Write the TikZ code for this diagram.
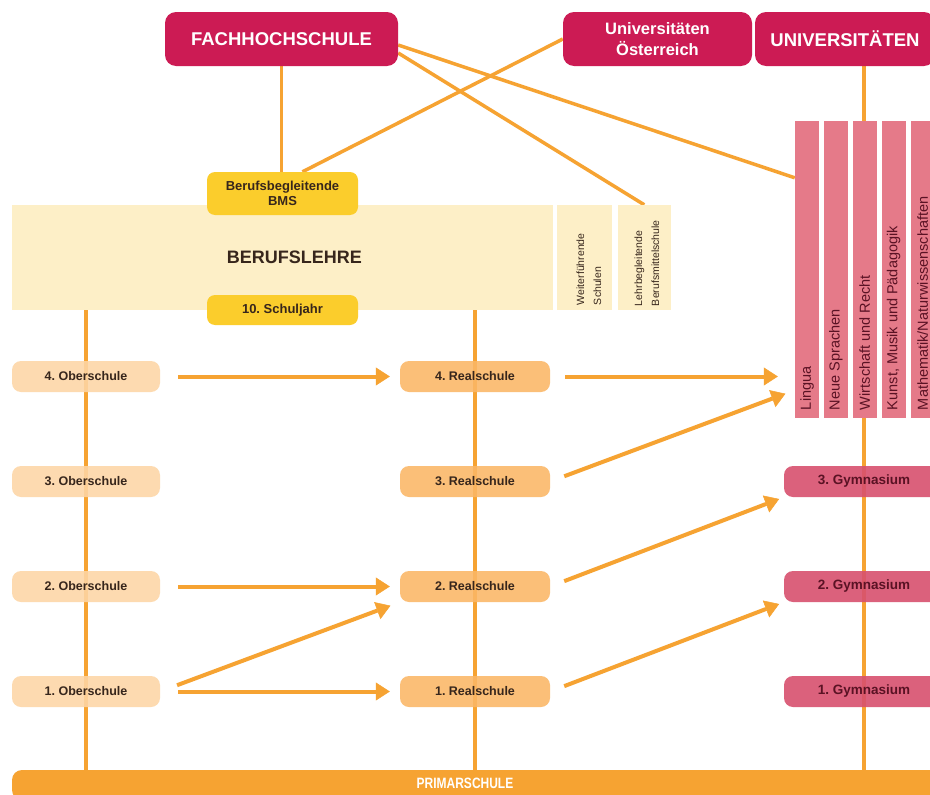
\documentclass[tikz,border=0pt]{standalone}
\usepackage{fontspec}
\setmainfont{Liberation Sans}
\frenchspacing
\usetikzlibrary{arrows.meta,positioning,calc,backgrounds}

\definecolor{himbeer}{RGB}{204,27,84}
\definecolor{gymrot}{RGB}{216,80,110}
\definecolor{fachrot}{RGB}{229,122,137}
\definecolor{pfirsich}{RGB}{253,214,166}
\definecolor{apricot}{RGB}{251,183,102}
\definecolor{gelb}{RGB}{251,205,44}
\definecolor{creme}{RGB}{253,239,199}
\definecolor{strich}{RGB}{246,163,50}
\definecolor{tinte}{RGB}{55,38,28}
\definecolor{weinrot}{RGB}{90,18,36}

\tikzset{schild/.style={rectangle, rounded corners=9pt, inner sep=2pt, text=tinte, font=\bfseries\fontsize{12.5}{14}\selectfont}}
\tikzstyle{kopf}=[schild, fill=himbeer, text=white, rounded corners=11pt, minimum height=54pt, font=\bfseries\fontsize{18.5}{21}\selectfont]
\tikzstyle{bmsbox}=[schild, fill=gelb, rounded corners=8pt, minimum width=151pt, font=\bfseries\fontsize{13}{15}\selectfont]
\tikzstyle{oberbox}=[schild, fill=pfirsich, fill opacity=0.88, text opacity=1, minimum width=148pt, minimum height=31pt]
\tikzstyle{realbox}=[schild, fill=apricot, fill opacity=0.88, text opacity=1, minimum width=150pt, minimum height=31pt]
\tikzstyle{gymbox}=[schild, fill=gymrot, fill opacity=0.9, text opacity=1, text=weinrot, minimum width=160pt, minimum height=31pt, font=\bfseries\fontsize{13.5}{15}\selectfont]
\tikzstyle{feld}=[rectangle, fill=creme, inner sep=0pt, minimum height=105pt]
\tikzstyle{fach}=[rectangle, fill=fachrot, inner sep=0pt, minimum width=24pt, minimum height=297pt]
\tikzstyle{fachtext}=[rotate=90, anchor=west, inner sep=0pt, text=weinrot, font=\fontsize{14.5}{16}\selectfont]
\tikzstyle{kleintext}=[rotate=90, anchor=west, inner sep=0pt, align=left, text=tinte, font=\fontsize{10.5}{17}\selectfont]
\tikzstyle{strang}=[draw=strich, line width=3.5pt]
\tikzstyle{pfeil}=[->, color=strich, line width=4pt]

\begin{document}
\begin{tikzpicture}[x=1pt, y=-1pt, >={Triangle[length=14pt,width=18pt,line width=0.5pt,fill=strich]}, node distance=105pt]
\useasboundingbox (0,0) rectangle (930,795);
\clip (0,0) rectangle (930,795);

% Hochschulen
\node[kopf, minimum width=233pt] (FH) at (281.5,39) {FACHHOCHSCHULE};
\node[kopf, minimum width=189pt, align=center, font=\bfseries\fontsize{16.5}{21}\selectfont] (UO) at (657.5,39) {Universitäten\\Österreich};
\node[kopf, minimum width=180pt] (UNI) at (845,39) {UNIVERSITÄTEN};

% Berufslehre
\node[feld, minimum width=541pt, text=tinte, font=\bfseries\fontsize{18}{20}\selectfont] (BL) at (282.5,257.5) {\hspace*{24pt}BERUFSLEHRE};
\node[feld, minimum width=55pt][right=4pt of BL] (WS) {};
\node[feld, minimum width=53pt][right=5pt of WS] (LB) {};
\node[kleintext] (TW) at ($(WS.south)+(4,-5)$) {Weiterführende\\Schulen};
\node[kleintext] (TL) at ($(LB.south)+(2.5,-4)$) {Lehrbegleitende\\Berufsmittelschule};
\node[bmsbox, align=center, minimum height=43pt] (BMS) at (282.5,193.5) {Berufsbegleitende\\BMS};
\node[bmsbox, minimum height=30pt] (SJ) at (282.5,310) {10. Schuljahr};

% Studienrichtungen
\node[fach] (C1) at (807,269.5) {};
\node[fach][right=4.5pt of C1] (C2) {};
\node[fach][right=4.5pt of C2] (C3) {};
\node[fach][right=4.5pt of C3] (C4) {};
\node[fach][right=4.5pt of C4] (C5) {};
\node[fachtext] (T1) at ($(C1.south)+(0,-8)$) {Lingua};
\node[fachtext] (T2) at ($(C2.south)+(0,-8)$) {Neue Sprachen};
\node[fachtext] (T3) at ($(C3.south)+(0,-8)$) {Wirtschaft und Recht};
\node[fachtext] (T4) at ($(C4.south)+(0,-8)$) {Kunst, Musik und Pädagogik};
\node[fachtext] (T5) at ($(C5.south)+(0,-8)$) {Mathematik/Naturwissenschaften};
\coordinate (L3) at ($(C1.south west)+(0,-28)$);

% Schulstufen
\node[oberbox] (O4) at (86,376.5) {4. Oberschule};
\node[oberbox][below of=O4] (O3) {3. Oberschule};
\node[oberbox][below of=O3] (O2) {2. Oberschule};
\node[oberbox][below of=O2] (O1) {1. Oberschule};
\node[realbox, node distance=389pt][right of=O4] (R4) {4. Realschule};
\node[realbox][below of=R4] (R3) {3. Realschule};
\node[realbox][below of=R3] (R2) {2. Realschule};
\node[realbox][below of=R2] (R1) {1. Realschule};
\node[gymbox, node distance=389pt][right of=R3] (G3) {3. Gymnasium};
\node[gymbox][below of=G3] (G2) {2. Gymnasium};
\node[gymbox][below of=G2] (G1) {1. Gymnasium};

% Primarschule
\node[rectangle, fill=strich, rounded corners=10pt, minimum width=933pt, minimum height=30pt] (PS) at (478.5,785) {};
\node[text=white, font=\bfseries\fontsize{15}{17}\selectfont] (PT) at (465,783) {\scalebox{0.8}[1]{PRIMARSCHULE}};

% Verbindungen
\begin{scope}[on background layer]
\fill[white] (0,0) rectangle (930,795);
\draw[strang] (FH.south) -- (FH.south |- BMS.north);
\draw[strang] ($(BMS.north)+(20,0)$) -- (UO.west);
\draw[strang] ($(FH.east)+(0,6)$) -- ($(C1.north west)+(0,57)$);
\draw[strang] ($(FH.east)+(0,14)$) -- (LB.north);
\draw[strang] (UNI.south -| G1) -- (PS.north -| G1);
\draw[strang] (BL.south -| O1) -- (PS.north -| O1);
\draw[strang] (BL.south -| R1) -- (PS.north -| R1);
\end{scope}

\path[pfeil, shorten <=18pt, shorten >=10pt] (O4) edge (R4)
	(O2) edge (R2)
	(O1) edge (R1)
	(O1.east) edge (R2.south west);
\path[pfeil, shorten <=15pt, shorten >=5pt] (R4.east) edge[shorten >=17pt] (R4 -| C1.west)
	(R3.east) edge[shorten >=10pt] (L3)
	(R2.east) edge (G3.south west)
	(R1.east) edge (G2.south west);
\end{tikzpicture}
\end{document}
